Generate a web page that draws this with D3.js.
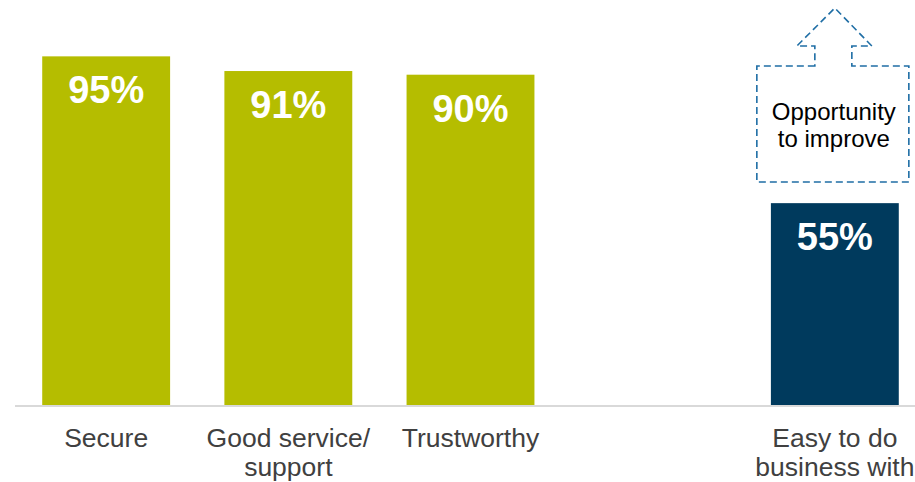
<!DOCTYPE html>
<meta charset="utf-8">
<script src="https://d3js.org/d3.v7.min.js"></script>
<style>
body { margin: 0; background: #fff; }
.cat text { font-family: "Liberation Sans", Arial, sans-serif; font-size: 26.5px; fill: #404040; }
.val { font-family: "Liberation Sans", Arial, sans-serif; font-size: 38px; font-weight: bold; fill: #fff; }
.note { font-family: "Liberation Sans", Arial, sans-serif; font-size: 24px; fill: #000; }
</style>
<body></body>
<script>
var categories = ["Secure", "Good service/|support", "Trustworthy", "", "Easy to do|business with"];
var values = [95, 91, 90, null, 55];
var colors = ["#b5bd00", "#b5bd00", "#b5bd00", null, "#003a5d"];

var width = 915, height = 482;
var svg = d3.select("body").append("svg")
    .attr("width", width)
    .attr("height", height);

var x = d3.scaleBand()
  .domain(d3.range(categories.length))
  .range([24, 917])
  .paddingInner(0.298)
  .paddingOuter(0.1);

var y = d3.scaleLinear()
  .domain([0, 100])
  .range([405, 38]);

// baseline
svg.append("line")
  .attr("x1", 15).attr("x2", 915)
  .attr("y1", y(0) + 1).attr("y2", y(0) + 1)
  .attr("stroke", "#d9d9d9")
  .attr("stroke-width", 2);

var data = categories.map(function(c, i) { return {i: i, cat: c, v: values[i], color: colors[i]}; });
var bars = data.filter(function(d) { return d.v != null; });

svg.selectAll(".bar")
  .data(bars).enter().append("rect")
  .attr("class", "bar")
  .attr("x", function(d) { return x(d.i); })
  .attr("width", x.bandwidth())
  .attr("y", function(d) { return y(d.v); })
  .attr("height", function(d) { return y(0) - y(d.v); })
  .attr("fill", function(d) { return d.color; });

svg.selectAll(".val")
  .data(bars).enter().append("text")
  .attr("class", "val")
  .attr("text-anchor", "middle")
  .attr("x", function(d) { return x(d.i) + x.bandwidth() / 2; })
  .attr("y", function(d) { return y(d.v) + 47; })
  .text(function(d) { return d.v + "%"; });

// category labels
var cat = svg.append("g").attr("class", "cat");
cat.selectAll("text")
  .data(data).enter().append("text")
  .attr("text-anchor", "middle")
  .attr("x", function(d) { return x(d.i) + x.bandwidth() / 2; })
  .attr("y", 447)
  .each(function(d) {
    var t = d3.select(this);
    d.cat.split("|").forEach(function(line, k) {
      t.append("tspan")
        .attr("x", x(d.i) + x.bandwidth() / 2)
        .attr("dy", k ? 29 : 0)
        .text(line);
    });
  });

// dashed "opportunity" arrow above the last bar
var cx = x(4) + x.bandwidth() / 2;
var boxTop = 66, boxBot = 182, hw = 76, sw = 20, wing = 38, neck = 46, apex = 8;
var p = d3.path();
p.moveTo(cx - sw, boxTop);
p.lineTo(cx - hw - 2, boxTop);
p.lineTo(cx - hw - 2, boxBot);
p.lineTo(cx + hw - 2, boxBot);
p.lineTo(cx + hw - 2, boxTop);
p.lineTo(cx + sw - 3, boxTop);
p.lineTo(cx + sw - 3, neck);
p.lineTo(cx + wing - 1, neck);
p.lineTo(cx, apex);
p.lineTo(cx - wing, neck);
p.lineTo(cx - sw, neck);
p.closePath();

svg.append("path")
  .attr("d", p.toString())
  .attr("fill", "none")
  .attr("stroke", "#1f6ea5")
  .attr("stroke-width", 1.6)
  .attr("stroke-dasharray", "7,4");

svg.append("text").attr("class", "note")
  .attr("text-anchor", "middle")
  .attr("x", cx - 1).attr("y", 120)
  .text("Opportunity");
svg.append("text").attr("class", "note")
  .attr("text-anchor", "middle")
  .attr("x", cx - 1).attr("y", 147)
  .text("to improve");
</script>
